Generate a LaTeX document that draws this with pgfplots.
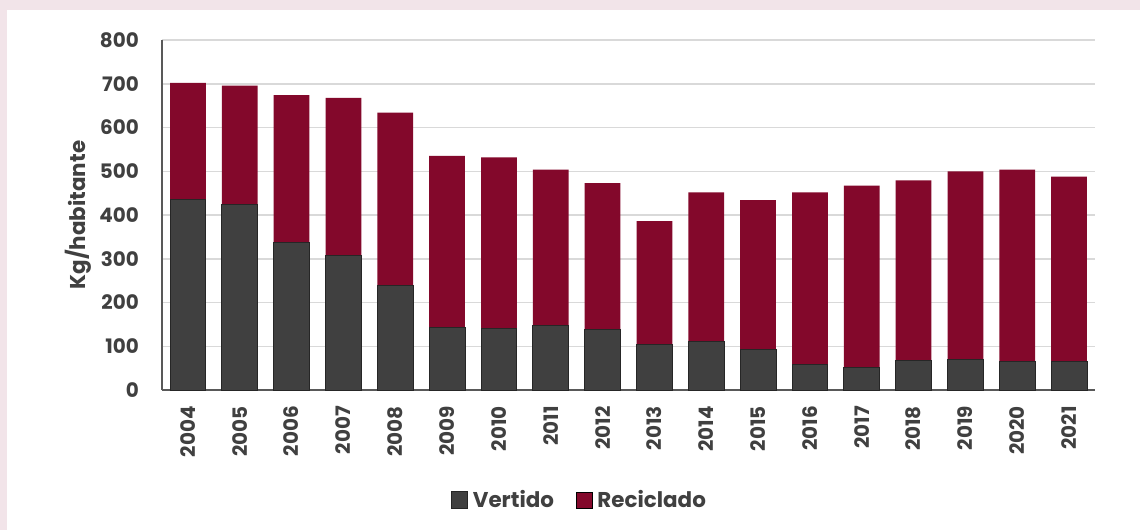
\documentclass[border=0pt]{standalone}
\usepackage{pgfplots}
\pgfplotsset{compat=1.18}
\usepackage{fontspec}
\setmainfont{Poppins}
\definecolor{vert}{RGB}{64,64,64}
\definecolor{vertedge}{RGB}{38,38,38}
\definecolor{recic}{RGB}{131,8,43}
\definecolor{txt}{RGB}{64,64,64}
\definecolor{pinkbg}{RGB}{242,228,233}
\definecolor{gridc}{RGB}{217,217,217}
\definecolor{axisc}{RGB}{89,89,89}
\newcommand{\lbl}{\fontsize{20}{24}\selectfont\bfseries}
\newcommand{\lblb}{\fontsize{21.5}{25}\selectfont\bfseries}
\pgfplotsset{sqleg/.style={legend image code/.code={\draw[##1] (0bp,-8bp) rectangle (16bp,8bp);}}}
\begin{document}
\begin{tikzpicture}
\fill[pinkbg] (-162bp,-140bp) rectangle (978bp,390bp);
\fill[white] (-155bp,-140bp) rectangle (978bp,380bp);
\begin{axis}[
  at={(0bp,0bp)}, anchor=south west,
  scale only axis, width=933bp, height=350bp,
  ybar stacked, bar width=0.69,
  xmin=-0.5, xmax=17.5, ymin=0, ymax=800,
  ytick={0,100,...,800},
  xtick={0,...,17},
  xticklabels={2004,2005,2006,2007,2008,2009,2010,2011,2012,2013,2014,2015,2016,2017,2018,2019,2020,2021},
  axis x line*=bottom, axis y line*=left,
  axis line style={draw=axisc, line width=1.2bp},
  major tick length=0pt, tick style={draw=none},
  ymajorgrids, grid style={draw=gridc, line width=1.5bp},
  tick label style={font=\lbl, text=txt},
  /pgf/number format/assume math mode=true,
  yticklabel style={anchor=east, inner sep=0pt, xshift=-23bp},
  xticklabel style={yshift=-16bp, rotate=90, anchor=east, inner sep=0pt},
  ylabel={Kg/habitante},
  every axis y label/.style={at={(axis description cs:0,0.5)}, xshift=-84bp, rotate=90, anchor=center, font=\lblb, text=txt},
  legend style={at={(axis description cs:0.4475,-0.314)}, anchor=center, draw=none, fill=none,
    legend columns=2, font=\lblb, text=txt,
    /tikz/every odd column/.append style={column sep=3bp},
    /tikz/every even column/.append style={column sep=20bp}},
]
\addplot[fill=vert, draw=vertedge, line width=0.8bp, sqleg]
  coordinates {(0,436) (1,424) (2,338) (3,307) (4,238) (5,143) (6,140) (7,147) (8,138)
   (9,104) (10,110) (11,92) (12,58) (13,52) (14,68) (15,70) (16,65) (17,65)};
\addlegendentry{Vertido}
\addplot[fill=recic, draw=none, sqleg]
  coordinates {(0,266) (1,272) (2,336) (3,361) (4,396) (5,392) (6,392) (7,357) (8,335)
   (9,282) (10,342) (11,342) (12,394) (13,415) (14,411) (15,430) (16,439) (17,423)};
\addlegendentry{Reciclado}
\end{axis}
\end{tikzpicture}
\end{document}
